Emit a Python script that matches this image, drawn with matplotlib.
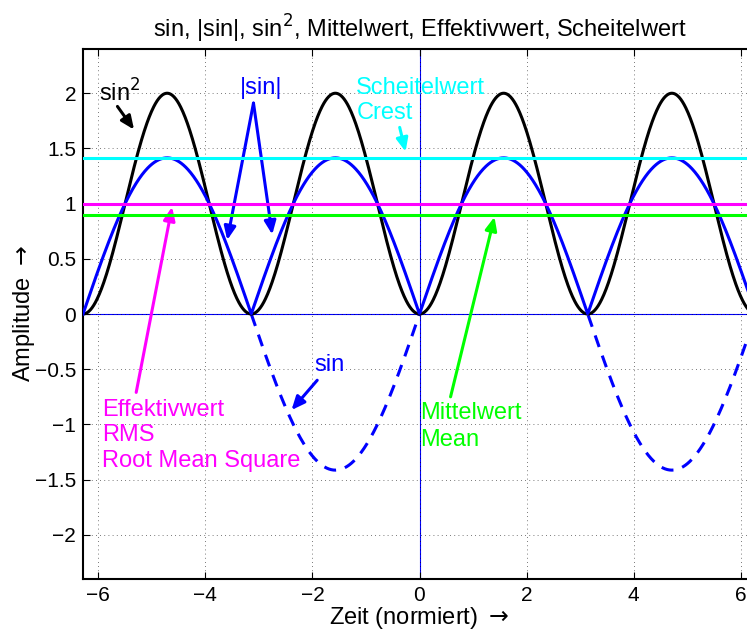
import numpy as np
import matplotlib
matplotlib.use("Agg")
import matplotlib.pyplot as plt

plt.rcParams['font.family'] = ['Liberation Sans', 'DejaVu Sans']
plt.rcParams['mathtext.fontset'] = 'dejavusans'

# --- data ---
amplitude = 1.414            # peak of the sine (sqrt 2)
mittelwert = 0.9             # mean of |sin|
effektivwert = 1.0           # RMS
scheitelwert = 1.414         # crest value
t_range = [-6.2832, 6.2832]
xticks = [-6, -4, -2, 0, 2, 4, 6]
yticks = [-2, -1.5, -1, -0.5, 0, 0.5, 1, 1.5, 2]

t = np.linspace(t_range[0], t_range[1], 1200)
y_sin = amplitude * np.sin(t)
y_abs = np.abs(y_sin)
y_sq = y_sin ** 2
y_sin_neg = np.where(y_sin <= 0, y_sin, np.nan)

fig = plt.figure(figsize=(7.47, 6.32), dpi=100)
ax = fig.add_axes([83/747, 53/632, (756-83)/747, (579-49)/632])

ax.axhline(0, color='#0000ff', lw=0.8, zorder=1)
ax.axvline(0, color='#0000ff', lw=0.8, zorder=1)

ax.plot(t, y_sin_neg, color='#0000ff', lw=2.2, ls=(0, (4, 3)), zorder=3)
ax.plot(t, y_sq, color='black', lw=2.2, zorder=3)
ax.plot(t, y_abs, color='#0000ff', lw=2.2, zorder=4)

ax.axhline(scheitelwert, color='#00ffff', lw=2.2, zorder=5)
ax.axhline(effektivwert, color='#ff00ff', lw=2.2, zorder=5)
ax.axhline(mittelwert, color='#00ff00', lw=2.2, zorder=5)

ax.set_xlim(t_range)
ax.set_ylim(-2.4, 2.4)
ax.set_xticks(xticks)
ax.set_yticks(yticks)
ax.set_yticklabels([f"{v:g}".replace('-', '\u2212') for v in yticks])
ax.set_xticklabels([f"{v:g}".replace('-', '\u2212') for v in xticks])
ax.grid(True, ls=(0, (1, 4)), color='black', lw=0.6, alpha=0.7)
ax.tick_params(direction='in', length=5, top=True, right=True, labelsize=15, width=0.8, pad=5)
for s in ax.spines.values():
    s.set_linewidth(1.5)

ax.set_title("sin, |sin|, sin$^2$, Mittelwert, Effektivwert, Scheitelwert", fontsize=17, pad=8)
ax.set_xlabel("Zeit (normiert) $\\rightarrow$", fontsize=17, labelpad=0)
ax.set_ylabel("Amplitude $\\rightarrow$", fontsize=17, labelpad=-2)

fs = 17
ap = lambda c: dict(arrowstyle='-|>,head_length=0.8,head_width=0.35', color=c, lw=2.2, shrinkA=0, shrinkB=0)

ax.text(-5.98, 2.0, "sin$^2$", color='black', fontsize=fs, va='center', ha='left')
ax.annotate("", xy=(-5.33, 1.67), xytext=(-5.64, 1.88), arrowprops=ap('black'))

ax.text(-2.95, 2.05, "|sin|", color='#0000ff', fontsize=fs, va='center', ha='center')
ax.annotate("", xy=(-3.59, 0.67), xytext=(-3.10, 1.91), arrowprops=ap('#0000ff'))
ax.annotate("", xy=(-2.75, 0.72), xytext=(-3.10, 1.91), arrowprops=ap('#0000ff'))

ax.text(-1.18, 2.05, "Scheitelwert", color='#00ffff', fontsize=fs, va='center', ha='left')
ax.text(-1.18, 1.82, "Crest", color='#00ffff', fontsize=fs, va='center', ha='left')
ax.annotate("", xy=(-0.26, 1.47), xytext=(-0.37, 1.69), arrowprops=ap('#00ffff'))

ax.text(-5.93, -0.87, "Effektivwert", color='#ff00ff', fontsize=fs, va='center', ha='left')
ax.text(-5.93, -1.10, "RMS", color='#ff00ff', fontsize=fs, va='center', ha='left')
ax.text(-5.93, -1.33, "Root Mean Square", color='#ff00ff', fontsize=fs, va='center', ha='left')
ax.annotate("", xy=(-4.62, 0.97), xytext=(-5.29, -0.71), arrowprops=ap('#ff00ff'))

ax.text(0.02, -0.90, "Mittelwert", color='#00ff00', fontsize=fs, va='center', ha='left')
ax.text(0.02, -1.14, "Mean", color='#00ff00', fontsize=fs, va='center', ha='left')
ax.annotate("", xy=(1.40, 0.88), xytext=(0.58, -0.75), arrowprops=ap('#00ff00'))

ax.text(-1.68, -0.46, "sin", color='#0000ff', fontsize=fs, va='center', ha='center')
ax.annotate("", xy=(-2.39, -0.87), xytext=(-1.91, -0.60), arrowprops=ap('#0000ff'))

fig.savefig("out.png", dpi=100)
